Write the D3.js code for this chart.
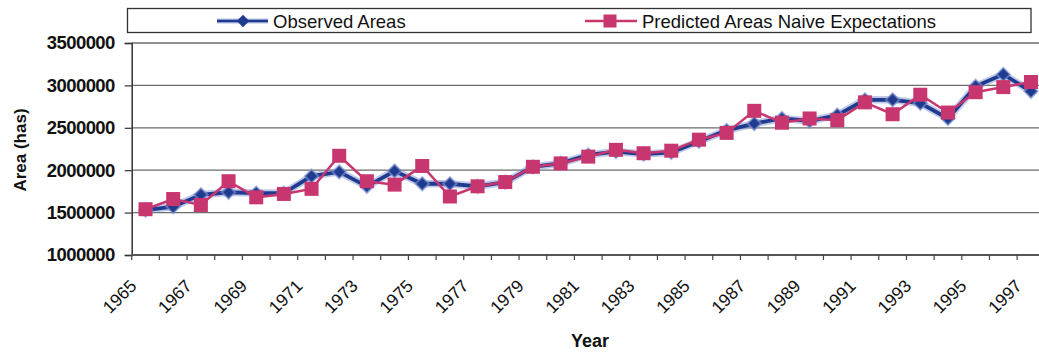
<!DOCTYPE html>
<html><head><meta charset="utf-8">
<script src="https://cdn.jsdelivr.net/npm/d3@7/dist/d3.min.js"></script>
<style>
body{margin:0;background:#fff;}
svg{display:block;font-family:"Liberation Sans",Arial,sans-serif;}
</style></head>
<body><svg id="c" width="1039" height="354"></svg>
<script>
const years = d3.range(1965, 1998);
const observed = [1530000,1570000,1710000,1740000,1730000,1730000,1930000,1980000,1810000,1990000,1840000,1840000,1810000,1860000,2040000,2080000,2180000,2220000,2190000,2210000,2340000,2470000,2550000,2610000,2580000,2650000,2830000,2830000,2790000,2610000,2990000,3130000,2930000];
const predicted = [1540000,1660000,1590000,1870000,1680000,1720000,1780000,2170000,1870000,1830000,2050000,1690000,1810000,1860000,2040000,2080000,2160000,2240000,2200000,2230000,2360000,2440000,2700000,2560000,2610000,2590000,2800000,2660000,2890000,2680000,2920000,2980000,3040000];
const yTicks = [1000000,1500000,2000000,2500000,3000000,3500000];
const yearLabels = years.filter(y => (y - 1965) % 2 === 0);
const seriesNames = ["Observed Areas", "Predicted Areas Naive Expectations"];

const svg = d3.select("#c");
const x = d3.scaleBand().domain(years).range([131.7, 131.7 + 33 * 27.67]);
const y = d3.scaleLinear().domain([1000000, 3500000]).range([255, 43]);
const cx = d => x(d) + x.bandwidth() / 2;

const blue = "#1f3b8f", blueHalo = "#8394d2", pink = "#c8366f";
const diamondType = d3.symbolDiamond2 || d3.symbolDiamond;

// gridlines
svg.append("g").selectAll("line").data(yTicks.slice(1)).join("line")
  .attr("x1", 131.7).attr("x2", 1039).attr("y1", d => y(d)).attr("y2", d => y(d))
  .attr("stroke", "#6d6d6d").attr("stroke-width", 1.3);

// y axis
const yAxis = d3.axisLeft(y).tickValues(yTicks).tickSize(7).tickPadding(10).tickFormat(d3.format("d"));
const gy = svg.append("g").attr("transform", "translate(131.7,0)").call(yAxis);
gy.select(".domain").attr("stroke", "#333").attr("stroke-width", 1.5);
gy.selectAll(".tick line").attr("stroke", "#333").attr("stroke-width", 1.2);
gy.selectAll(".tick text").attr("font-size", 18.5).attr("fill", "#111")
  .attr("font-family", "'Liberation Sans',Arial,sans-serif").attr("font-weight", "bold").attr("letter-spacing", "-0.6");

// x axis line and ticks at band edges
svg.append("line").attr("x1", 131.7).attr("x2", 1039).attr("y1", y(1000000)).attr("y2", y(1000000))
  .attr("stroke", "#555").attr("stroke-width", 1.8);
svg.append("g").selectAll("line").data(years).join("line")
  .attr("x1", d => x(d)).attr("x2", d => x(d)).attr("y1", y(1000000)).attr("y2", y(1000000) + 5)
  .attr("stroke", "#444").attr("stroke-width", 1.2);
svg.append("g").selectAll("text").data(yearLabels).join("text")
  .attr("transform", d => `translate(${cx(d) - 8},${y(1000000) + 32}) rotate(-45)`)
  .attr("text-anchor", "end").attr("font-size", 17.5).attr("fill", "#111").text(d => d);

// axis titles
svg.append("text").attr("x", 590).attr("y", 347).attr("text-anchor", "middle")
  .attr("font-size", 18).attr("font-weight", "bold").attr("fill", "#111").text("Year");
svg.append("text").attr("transform", "translate(26,150) rotate(-90)").attr("text-anchor", "middle")
  .attr("font-size", 17).attr("font-weight", "bold").attr("fill", "#111").text("Area (has)");

// lines
const line = d3.line().x((d, i) => cx(years[i])).y(d => y(d));
const plot = svg.append("g");
plot.append("path").datum(observed).attr("d", line).attr("fill", "none")
  .attr("stroke", blueHalo).attr("stroke-width", 7.5).attr("stroke-opacity", 0.5);
plot.append("path").datum(observed).attr("d", line).attr("fill", "none")
  .attr("stroke", blue).attr("stroke-width", 3.8);
plot.append("g").selectAll("path").data(observed).join("path")
  .attr("transform", (d, i) => `translate(${cx(years[i])},${y(d)})`)
  .attr("d", d3.symbol().type(diamondType).size(115))
  .attr("fill", blue).attr("stroke", blueHalo).attr("stroke-width", 2).attr("stroke-opacity", 0.6);

plot.append("path").datum(predicted).attr("d", line).attr("fill", "none")
  .attr("stroke", pink).attr("stroke-width", 2.5);
plot.append("g").selectAll("rect").data(predicted).join("rect")
  .attr("x", (d, i) => cx(years[i]) - 7).attr("y", d => y(d) - 7)
  .attr("width", 14).attr("height", 14).attr("fill", pink);

// legend
const lg = svg.append("g");
lg.append("rect").attr("x", 127.5).attr("y", 8.5).attr("width", 903.5).attr("height", 24)
  .attr("fill", "#fff").attr("stroke", "#333").attr("stroke-width", 1.3);
lg.append("line").attr("x1", 217).attr("x2", 268).attr("y1", 21).attr("y2", 21)
  .attr("stroke", blueHalo).attr("stroke-width", 5).attr("stroke-opacity", 0.6);
lg.append("line").attr("x1", 217).attr("x2", 268).attr("y1", 21).attr("y2", 21)
  .attr("stroke", blue).attr("stroke-width", 2.5);
lg.append("path").attr("transform", "translate(243,21)")
  .attr("d", d3.symbol().type(diamondType).size(100)).attr("fill", blue);
lg.append("text").attr("x", 273).attr("y", 27.5).attr("font-size", 18.5).attr("fill", "#111").text(seriesNames[0]);
lg.append("line").attr("x1", 585).attr("x2", 637).attr("y1", 21).attr("y2", 21)
  .attr("stroke", pink).attr("stroke-width", 2.5);
lg.append("rect").attr("x", 603.5).attr("y", 14.5).attr("width", 13).attr("height", 13).attr("fill", pink);
lg.append("text").attr("x", 642).attr("y", 27.5).attr("font-size", 18.5).attr("fill", "#111").text(seriesNames[1]);
</script></body></html>
